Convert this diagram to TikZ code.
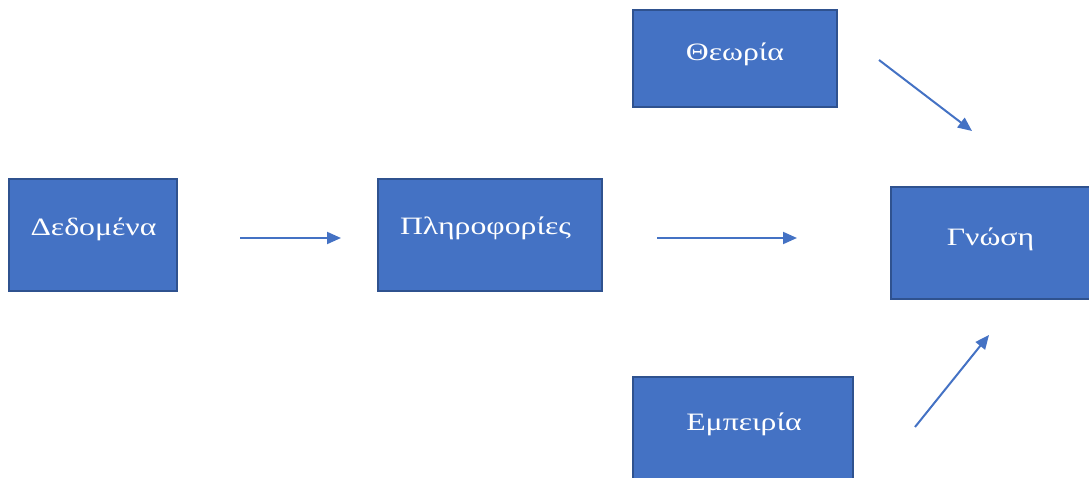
\documentclass[tikz,border=0pt]{standalone}
\usepackage{fontspec}
\setmainfont{Liberation Serif}
\usetikzlibrary{arrows.meta}
\definecolor{boxfill}{HTML}{4472C4}
\definecolor{boxline}{HTML}{2F528F}
\newcommand{\widetext}[1]{\scalebox{1.27}[1]{#1}}
\begin{document}
\begin{tikzpicture}[x=1pt,y=-1pt,
  blk/.style={draw=boxline,line width=2pt,fill=boxfill},
  lbl/.style={text=white,font=\fontsize{25}{30}\selectfont,inner sep=0pt,anchor=base},
  flow/.style={draw=boxfill,line width=2pt,-{Triangle[length=14pt,width=12pt]}}]
\useasboundingbox (0,0) rectangle (1089,478);
\begin{scope}
\clip (0,0) rectangle (1089,478);
% boxes
\draw[blk] (9,179) rectangle (177,291);
\draw[blk] (378,179) rectangle (602,291);
\draw[blk] (633,10) rectangle (837,107);
\draw[blk] (891,187) rectangle (1092,299);
\draw[blk] (633,377) rectangle (853,490);
\end{scope}
% labels
\node[lbl] (dedomena) at (93.5,236) {\widetext{Δεδομένα}};
\node[lbl] (plirofories) at (485.5,235) {\widetext{Πληροφορίες}};
\node[lbl] (theoria) at (735,61) {\widetext{Θεωρία}};
\node[lbl] (gnosi) at (990.5,246) {\widetext{Γνώση}};
\node[lbl] (empeiria) at (744,430) {\widetext{Εμπειρία}};
% arrow ends
\coordinate (a1s) at (240,238);
\coordinate (a1e) at (341,238);
\coordinate (a2s) at (657,238);
\coordinate (a2e) at (797,238);
\coordinate (a3s) at (879,60);
\coordinate (a3e) at (972,131);
\coordinate (a4s) at (915,427);
\coordinate (a4e) at (989,335);
\draw[flow] (a1s) -- (a1e);
\draw[flow] (a2s) -- (a2e);
\draw[flow] (a3s) -- (a3e);
\draw[flow] (a4s) -- (a4e);
\end{tikzpicture}
\end{document}
